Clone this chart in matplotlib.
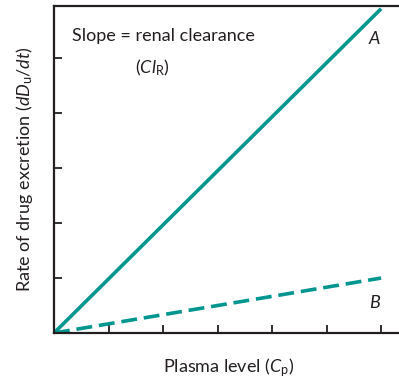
import matplotlib
matplotlib.use("Agg")
import matplotlib.pyplot as plt

plt.rcParams['font.family'] = ['Lato', 'DejaVu Sans']
plt.rcParams['mathtext.fontset'] = 'custom'
plt.rcParams['mathtext.rm'] = 'Lato'
plt.rcParams['mathtext.it'] = 'Lato:italic'

# plasma level vs excretion rate, two drugs
plasma = [0, 6]
rate_a = [0, 5.9]
rate_b = [0, 1.0]
xticks = [1, 2, 3, 4, 5, 6]
yticks = [1, 2, 3, 4, 5]

teal = "#00968f"
ink = "#231f20"

fig = plt.figure(figsize=(3.99, 3.78), dpi=100)
ax = fig.add_axes([54/399, 45/378, 350/399, 327/378])

ax.plot(plasma, rate_a, color=teal, linewidth=2.6, solid_capstyle='butt')
ax.plot(plasma, rate_b, color=teal, linewidth=2.6, dashes=(4.4, 1.9))

ax.set_xlim(0, 6.42)
ax.set_ylim(0, 5.95)
ax.set_xticks(xticks)
ax.set_yticks(yticks)
ax.set_xticklabels([])
ax.set_yticklabels([])
ax.tick_params(direction='in', length=6, width=1.3, color=ink)
for s in ['left', 'bottom', 'top']:
    ax.spines[s].set_linewidth(1.6)
    ax.spines[s].set_color(ink)
ax.spines['right'].set_visible(False)

ax.text(2.0, 5.4, "Slope = renal clearance", ha='center', va='center', fontsize=13, color=ink)
ax.text(1.8, 4.83, r"($Cl_{\mathrm{R}}$)", ha='center', va='center', fontsize=13, color=ink)
ax.text(5.88, 5.35, "A", style='italic', ha='center', va='center', fontsize=13, color=ink)
ax.text(5.88, 0.55, "B", style='italic', ha='center', va='center', fontsize=13, color=ink)

ax.set_xlabel(r"Plasma level ($C_{\mathrm{p}}$)", fontsize=13, color=ink, labelpad=13)
ax.set_ylabel(r"Rate of drug excretion ($dD_{\mathrm{u}}/dt$)", fontsize=13, color=ink, labelpad=10)

fig.savefig("out.png", dpi=100)
